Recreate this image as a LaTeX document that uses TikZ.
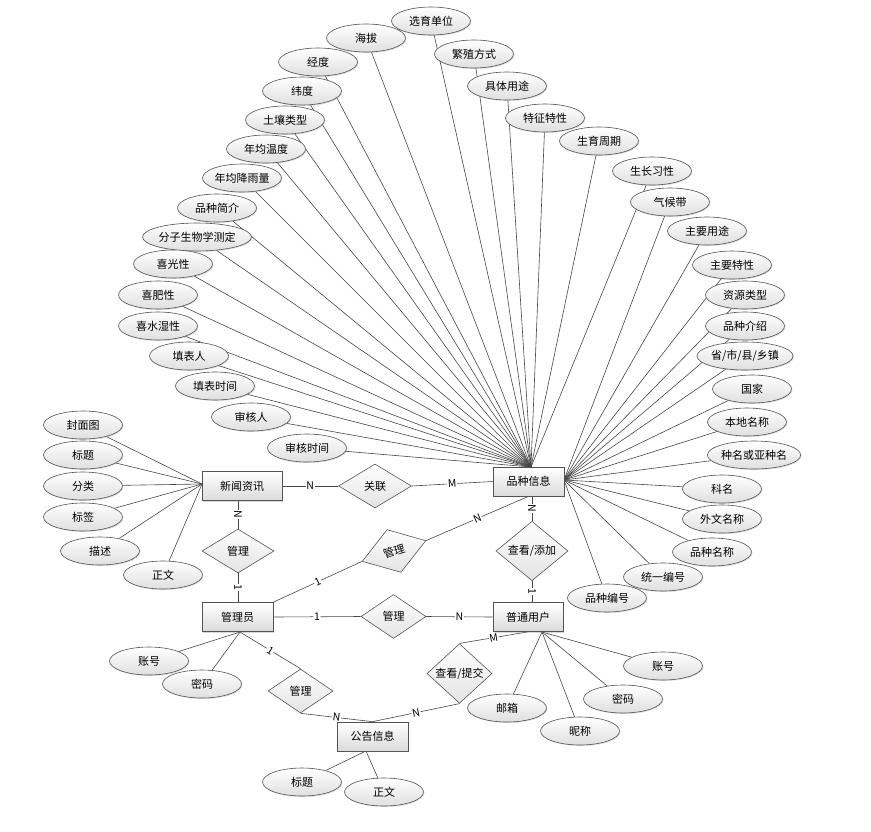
\documentclass[tikz,border=0pt]{standalone}
\usepackage{fontspec}
\setmainfont{Noto Sans CJK SC}
\usetikzlibrary{shapes.geometric,shadows}
\pgfdeclarelayer{bg}
\pgfsetlayers{bg,main}
\tikzset{
  lbl/.style={font=\fontsize{11}{12}\selectfont},
  attr/.style={ellipse,draw=gray!65!black,line width=0.6pt,top color=white,bottom color=gray!25,
    minimum width=79pt,minimum height=28pt,inner sep=0pt,lbl,
    drop shadow={opacity=0.25,shadow xshift=1pt,shadow yshift=-1pt}},
  ent/.style={rectangle,draw=gray!65!black,line width=0.7pt,top color=white,bottom color=gray!28,
    minimum width=71pt,minimum height=29pt,inner sep=0pt,lbl,
    drop shadow={opacity=0.3,shadow xshift=1.2pt,shadow yshift=-1.2pt}},
  rel/.style={diamond,draw=gray!65!black,line width=0.6pt,top color=white,bottom color=gray!22,
    minimum width=72pt,minimum height=44pt,inner sep=0pt,lbl},
  ln/.style={draw=gray!55!black,line width=0.6pt},
  card/.style={fill=white,inner sep=0.8pt,font=\fontsize{10.5}{12}\selectfont,sloped}
}
\begin{document}
\begin{tikzpicture}[x=1pt,y=-1pt]
\useasboundingbox (0,0) rectangle (871,831);
% entities
\node[ent,minimum width=80pt] (xw) at (242,486) {新闻资讯};
\node[ent] (pz) at (528.5,481.5) {品种信息};
\node[ent] (gl) at (237.5,617) {管理员};
\node[ent,minimum width=70pt] (pu) at (528,617) {普通用户};
\node[ent] (gg) at (372.5,736.5) {公告信息};
% convergence points
\coordinate (ptop) at (531,467);
\coordinate (prt) at (564,480);
\coordinate (xl) at (202,484);
\coordinate (gb) at (240,632);
\coordinate (pb) at (542,632);
\coordinate (gt) at (366,751);
% attributes of 品种信息 (top/left)
\node[attr] (a1) at (431,21) {选育单位};
\node[attr] (a2) at (366,38) {海拔};
\node[attr] (a3) at (318,62) {经度};
\node[attr] (a4) at (302,91) {纬度};
\node[attr] (a5) at (285,120) {土壤类型};
\node[attr] (a6) at (266,149) {年均温度};
\node[attr] (a7) at (242,178) {年均降雨量};
\node[attr] (a8) at (217,208) {品种简介};
\node[attr] (a9) at (197,237) {分子生物学测定};
\node[attr] (a10) at (173,264) {喜光性};
\node[attr] (a11) at (158,295) {喜肥性};
\node[attr] (a12) at (158,326) {喜水湿性};
\node[attr] (a13) at (189,356) {填表人};
\node[attr] (a14) at (215,386) {填表时间};
\node[attr] (a15) at (251,417) {审核人};
\node[attr] (a16) at (307,448) {审核时间};
\node[attr] (a17) at (474,54) {繁殖方式};
\node[attr] (a18) at (507,86) {具体用途};
\node[attr] (a19) at (545,118) {特征特性};
\node[attr] (a20) at (599,141) {生育周期};
\node[attr] (a21) at (652,171) {生长习性};
% attributes of 品种信息 (right)
\node[attr] (b1) at (670,202) {气候带};
\node[attr] (b2) at (707,231) {主要用途};
\node[attr] (b3) at (732,265) {主要特性};
\node[attr] (b4) at (745,295) {资源类型};
\node[attr] (b5) at (745,326) {品种介绍};
\node[attr] (b6) at (745,356) {省/市/县/乡镇};
\node[attr] (b7) at (752,389) {国家};
\node[attr] (b8) at (747,422) {本地名称};
\node[attr] (b9) at (754,455) {种名或亚种名};
\node[attr] (b10) at (722,489) {科名};
\node[attr] (b11) at (722,519) {外文名称};
\node[attr] (b12) at (712,552) {品种名称};
\node[attr] (b13) at (663,577) {统一编号};
\node[attr] (b14) at (607,598) {品种编号};
% attributes of 新闻资讯
\node[attr] (c1) at (83,425) {封面图};
\node[attr] (c2) at (83,455) {标题};
\node[attr] (c3) at (83,486) {分类};
\node[attr] (c4) at (83,517) {标签};
\node[attr] (c5) at (100,551) {描述};
\node[attr] (c6) at (163,575) {正文};
% attributes of 管理员
\node[attr] (d1) at (149,661) {账号};
\node[attr] (d2) at (202,684) {密码};
% attributes of 公告信息
\node[attr] (e1) at (302,782) {标题};
\node[attr] (e2) at (384,792) {正文};
% attributes of 普通用户
\node[attr] (f1) at (663,666) {账号};
\node[attr] (f2) at (623,699) {密码};
\node[attr] (f3) at (580,731) {昵称};
\node[attr] (f4) at (507,708) {邮箱};
% relationships
\node[rel,minimum width=73pt] (r1) at (375,486) {关联};
\node[rel] (r2) at (238,551) {管理};
\node[rel,minimum width=67pt,minimum height=45pt,rotate=18] (r3) at (394,551) {管理};
\node[rel] (r4) at (532,551) {查看/添加};
\node[rel,minimum width=65pt] (r5) at (393.5,616.5) {管理};
\node[rel,minimum width=65pt] (r6) at (300.5,691) {管理};
\node[rel,minimum width=65pt,minimum height=43pt] (r7) at (459.5,673.5) {查看/提交};
\begin{pgfonlayer}{bg}
% attribute lines
\foreach \i in {1,...,21} \draw[ln] (a\i) -- (ptop);
\foreach \i in {1,...,14} \draw[ln] (b\i) -- (prt);
\foreach \i in {1,...,6} \draw[ln] (c\i) -- (xl);
\foreach \i in {1,2} \draw[ln] (d\i) -- (gb);
\foreach \i in {1,2} \draw[ln] (e\i) -- (gt);
\foreach \i in {1,...,4} \draw[ln] (f\i) -- (pb);
% relationship lines
\draw[ln] (xw.east) -- node[card]{N} (r1.west);
\draw[ln] (r1.east) -- node[card]{M} (pz.west);
\draw[ln] (r2.north |- xw.south) -- node[card]{N} (r2.north);
\draw[ln] (r2.south) -- node[card]{1} (r2.south |- gl.north);
\draw[ln] (gl.north east) -- node[card]{1} (r3.west);
\draw[ln] (r3.east) -- node[card]{N} (pz.south);
\draw[ln] (r4.north |- pz.south) -- node[card]{N} (r4.north);
\draw[ln] (r4.south) -- node[card]{1} (r4.south |- pu.north);
\draw[ln] (gl.east) -- node[card]{1} (r5.west);
\draw[ln] (r5.east) -- node[card]{N} (pu.west);
\draw[ln] (gb) -- node[card]{1} (r6.north);
\draw[ln] (r6.south) -- node[card]{N} (gg.north);
\draw[ln] (pu.south) -- node[card]{M} (r7.north);
\draw[ln] (r7.south) -- node[card]{N} (gg.north);
\end{pgfonlayer}
\end{tikzpicture}
\end{document}
